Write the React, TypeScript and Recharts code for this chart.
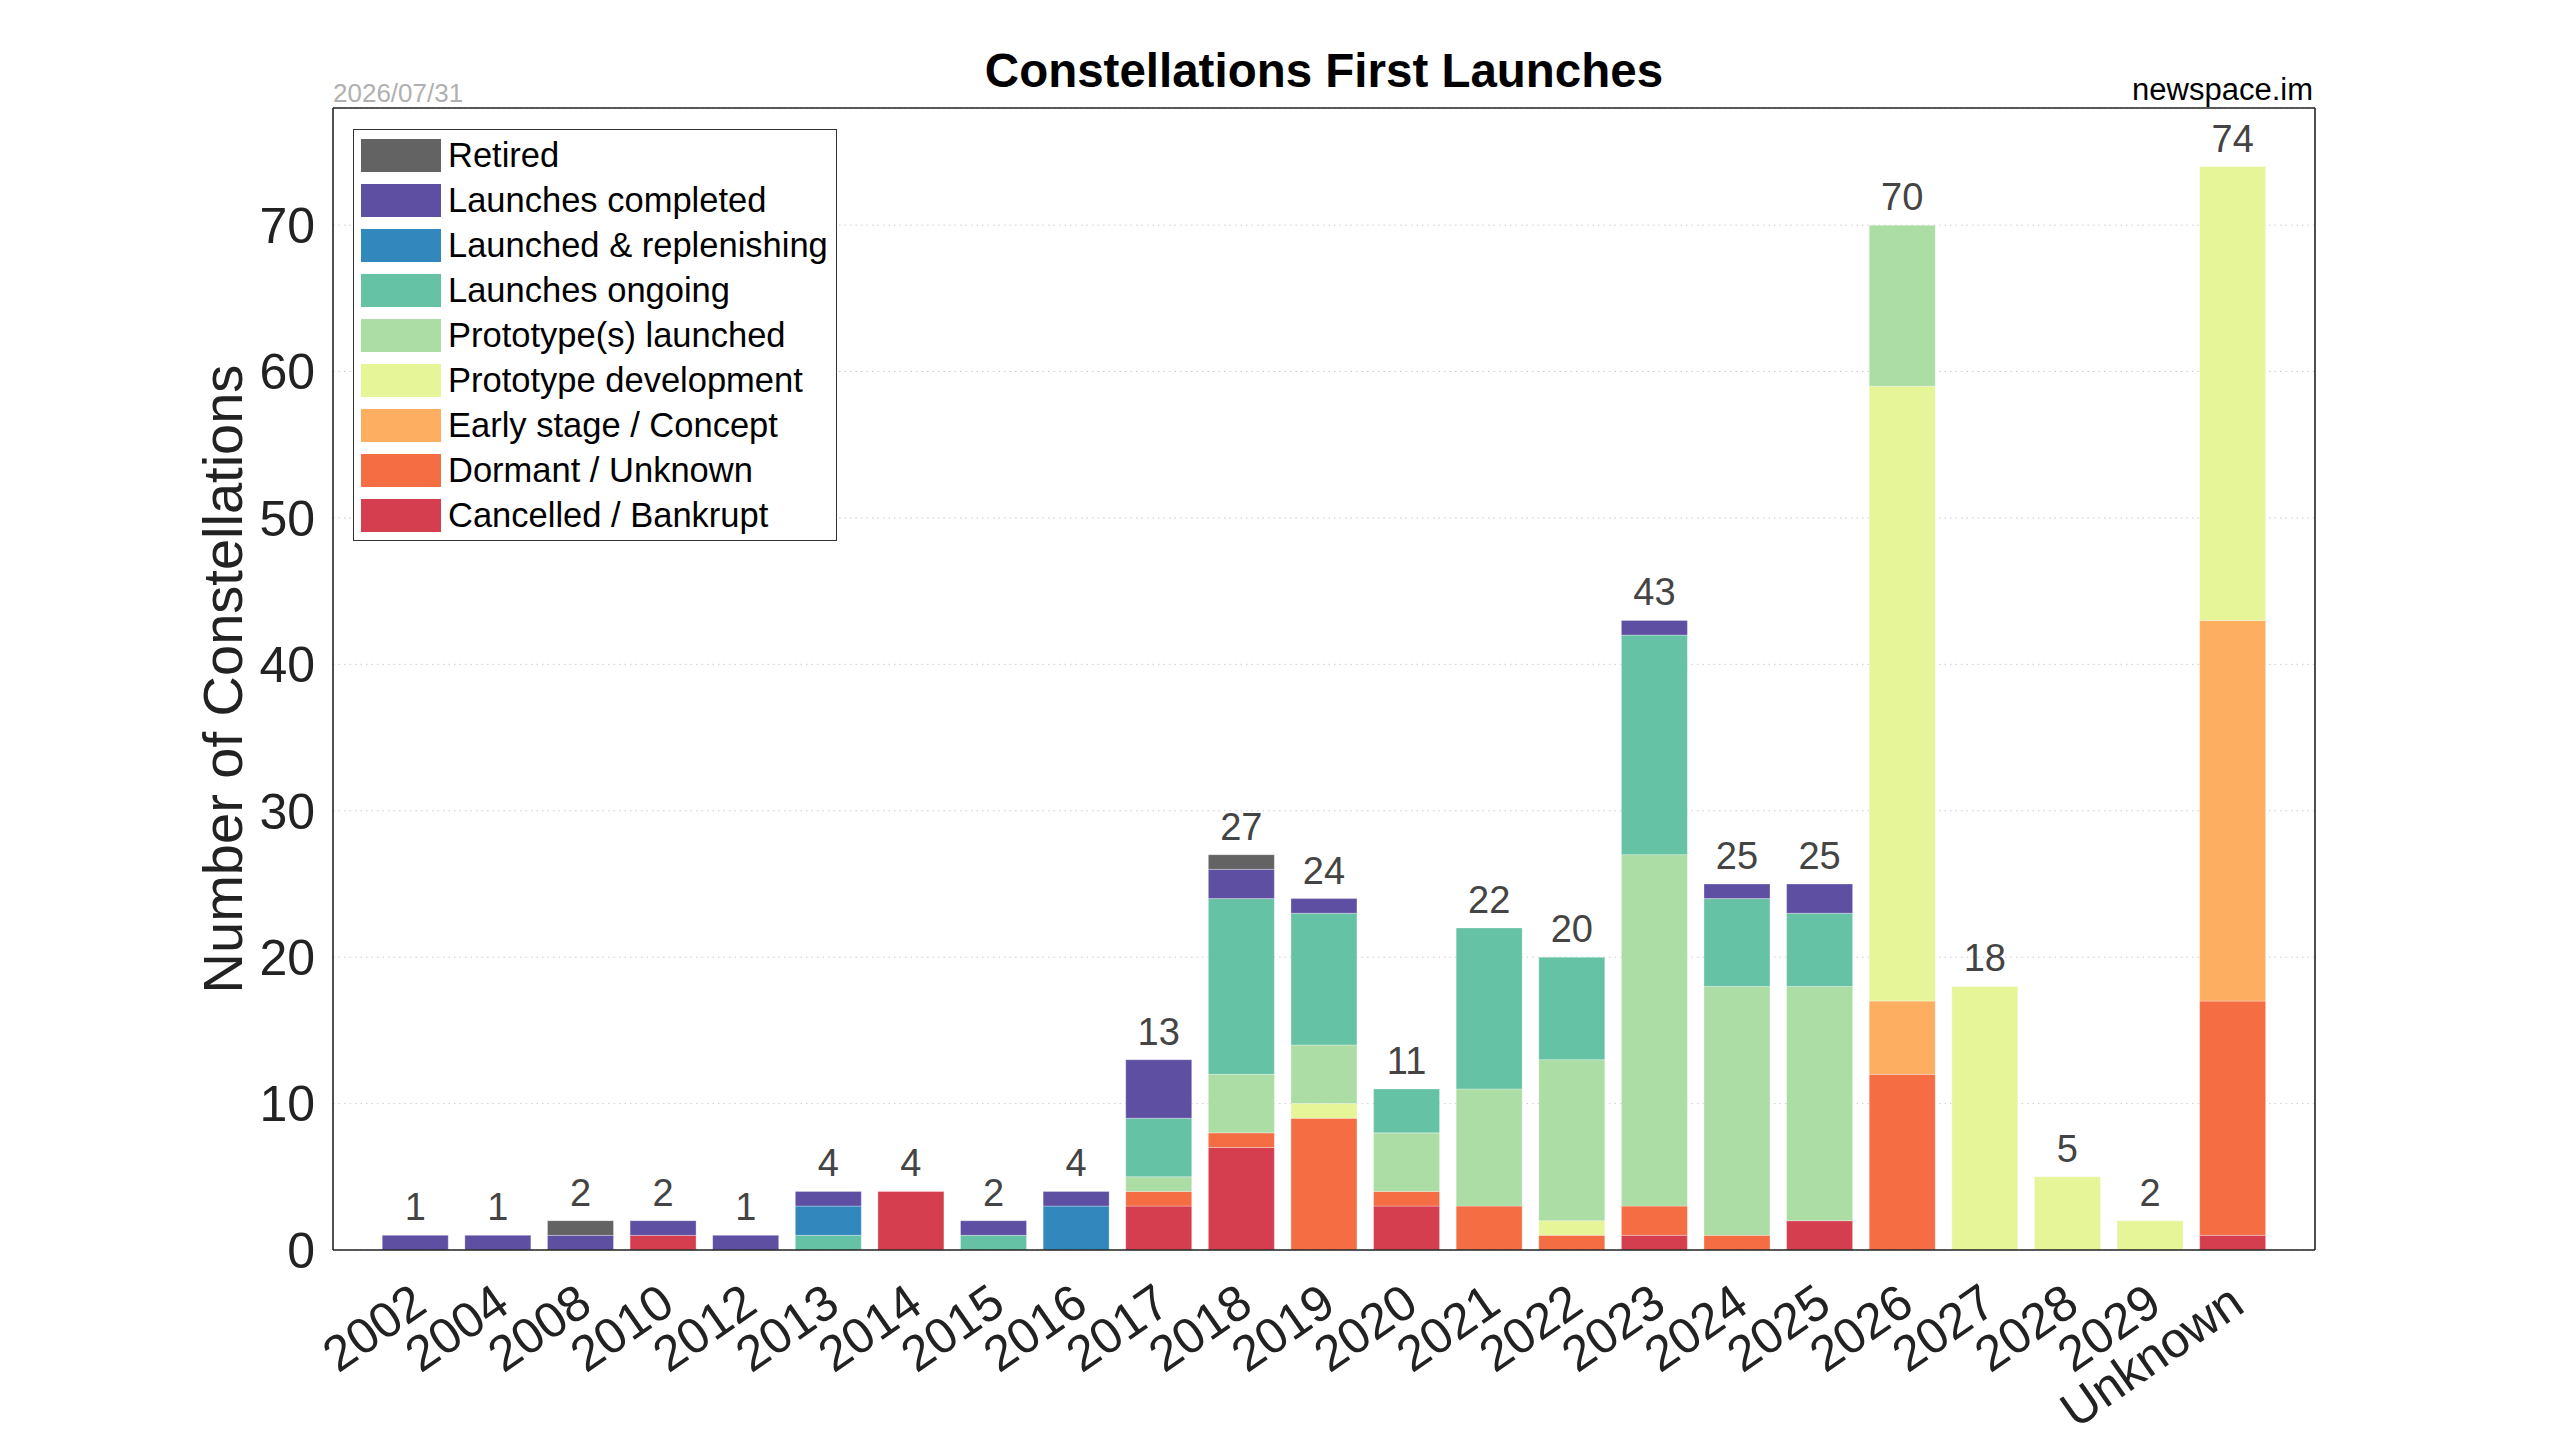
import React from "react";
import {
  BarChart,
  Bar,
  XAxis,
  YAxis,
  CartesianGrid,
  Legend,
  LabelList,
} from "recharts";

const FONT = '"Liberation Sans", Arial, Helvetica, sans-serif';

const years = [
  "2002", "2004", "2008", "2010", "2012", "2013", "2014", "2015", "2016", "2017", "2018", "2019",
  "2020", "2021", "2022", "2023", "2024", "2025", "2026", "2027", "2028", "2029", "Unknown",
];

// stack order, bottom to top
const cancelled = [0, 0, 0, 1, 0, 0, 4, 0, 0, 3, 7, 0, 3, 0, 0, 1, 0, 2, 0, 0, 0, 0, 1];
const dormant = [0, 0, 0, 0, 0, 0, 0, 0, 0, 1, 1, 9, 1, 3, 1, 2, 1, 0, 12, 0, 0, 0, 16];
const earlyStage = [0, 0, 0, 0, 0, 0, 0, 0, 0, 0, 0, 0, 0, 0, 0, 0, 0, 0, 5, 0, 0, 0, 26];
const protoDev = [0, 0, 0, 0, 0, 0, 0, 0, 0, 0, 0, 1, 0, 0, 1, 0, 0, 0, 42, 18, 5, 2, 31];
const protoLaunched = [0, 0, 0, 0, 0, 0, 0, 0, 0, 1, 4, 4, 4, 8, 11, 24, 17, 16, 11, 0, 0, 0, 0];
const ongoing = [0, 0, 0, 0, 0, 1, 0, 1, 0, 4, 12, 9, 3, 11, 7, 15, 6, 5, 0, 0, 0, 0, 0];
const replenishing = [0, 0, 0, 0, 0, 2, 0, 0, 3, 0, 0, 0, 0, 0, 0, 0, 0, 0, 0, 0, 0, 0, 0];
const completed = [1, 1, 1, 1, 1, 1, 0, 1, 1, 4, 2, 1, 0, 0, 0, 1, 1, 2, 0, 0, 0, 0, 0];
const retired = [0, 0, 1, 0, 0, 0, 0, 0, 0, 0, 1, 0, 0, 0, 0, 0, 0, 0, 0, 0, 0, 0, 0];

const yTicks = [0, 10, 20, 30, 40, 50, 60, 70];

const SERIES = [
  { key: "cancelled", name: "Cancelled / Bankrupt", color: "#d53e4f", values: cancelled },
  { key: "dormant", name: "Dormant / Unknown", color: "#f46d43", values: dormant },
  { key: "early", name: "Early stage / Concept", color: "#fdae61", values: earlyStage },
  { key: "protoDev", name: "Prototype development", color: "#e6f598", values: protoDev },
  { key: "protoLaunched", name: "Prototype(s) launched", color: "#abdda4", values: protoLaunched },
  { key: "ongoing", name: "Launches ongoing", color: "#66c2a5", values: ongoing },
  { key: "replenishing", name: "Launched & replenishing", color: "#3288bd", values: replenishing },
  { key: "completed", name: "Launches completed", color: "#5e4fa2", values: completed },
  { key: "retired", name: "Retired", color: "#636363", values: retired },
];

const data = years.map((year, i) => {
  const row: Record<string, string | number> = { year };
  let top = "";
  SERIES.forEach((s) => {
    row[s.key] = s.values[i];
    if (s.values[i] > 0) top = s.key;
  });
  row.total = SERIES.reduce((sum, s) => sum + s.values[i], 0);
  row.top = top;
  return row;
});

const AXIS_LINE = { stroke: "#222", strokeWidth: 1.6 };

const YearTick = (props: any) => {
  const { x, y, payload } = props;
  const ax = x + 14;
  const ay = y + 60;
  return (
    <text
      x={ax}
      y={ay}
      textAnchor="end"
      transform={`rotate(-35, ${ax}, ${ay})`}
      fontSize={50}
      fontFamily={FONT}
      fill="#222"
    >
      {payload.value}
    </text>
  );
};

const YTitle = (props: any) => {
  const { viewBox } = props;
  const x = viewBox.x + viewBox.width - 91;
  const y = viewBox.y + viewBox.height / 2;
  return (
    <text
      x={x}
      y={y}
      textAnchor="middle"
      transform={`rotate(-90, ${x}, ${y})`}
      fontSize={56}
      fontFamily={FONT}
      fill="#222"
    >
      Number of Constellations
    </text>
  );
};

const TotalLabel = (props: any) => {
  const { x, y, width, value } = props;
  if (value === null || value === undefined || value === "") return null;
  return (
    <text
      x={x + width / 2}
      y={y - 15}
      textAnchor="middle"
      fontSize={38}
      fontFamily={FONT}
      fill="#444"
    >
      {value}
    </text>
  );
};

const LegendBox = () => (
  <div
    style={{
      boxSizing: "border-box",
      width: 484,
      height: 412,
      border: "1.6px solid #333",
      background: "#fff",
      padding: "9px 0 0 7px",
      fontFamily: FONT,
      textAlign: "left",
    }}
  >
    {[...SERIES].reverse().map((s) => (
      <div
        key={s.key}
        style={{ display: "flex", alignItems: "center", height: 33, marginBottom: 12 }}
      >
        <span
          style={{ width: 80, height: 33, background: s.color, marginRight: 7, flex: "none" }}
        />
        <span style={{ fontSize: 34.5, lineHeight: "33px", color: "#000", whiteSpace: "nowrap" }}>
          {s.name}
        </span>
      </div>
    ))}
  </div>
);

export default function App() {
  return (
    <div
      style={{
        position: "absolute",
        left: 0,
        top: 0,
        width: 2560,
        height: 1440,
        background: "#fff",
        fontFamily: FONT,
      }}
    >
      <BarChart
        width={2560}
        height={1440}
        data={data}
        margin={{ top: 107, right: 244, bottom: 40, left: 213 }}
        barCategoryGap="10%"
      >
        <CartesianGrid vertical={false} stroke="#cccccc" strokeDasharray="1.5 4" />
        <XAxis
          dataKey="year"
          height={150}
          interval={0}
          padding={{ left: 41, right: 41 }}
          tickLine={false}
          tickSize={0}
          tickMargin={0}
          axisLine={AXIS_LINE}
          tick={<YearTick />}
        />
        <XAxis
          xAxisId="top"
          dataKey="year"
          orientation="top"
          height={1}
          tick={false}
          tickLine={false}
          axisLine={AXIS_LINE}
        />
        <YAxis
          domain={[0, 78]}
          ticks={yTicks}
          width={120}
          tickLine={false}
          tickSize={0}
          tickMargin={18}
          axisLine={AXIS_LINE}
          tick={{ fontSize: 50, fill: "#222", fontFamily: FONT }}
          label={<YTitle />}
        />
        <YAxis
          yAxisId="right"
          orientation="right"
          domain={[0, 78]}
          width={1}
          tick={false}
          tickLine={false}
          axisLine={AXIS_LINE}
        />
        <Legend
          layout="horizontal"
          verticalAlign="middle"
          align="center"
          content={() => <LegendBox />}
          wrapperStyle={{ left: 353, top: 129, width: 484, height: 412 }}
        />
        {SERIES.map((s) => (
          <Bar
            key={s.key}
            dataKey={s.key}
            name={s.name}
            stackId="a"
            fill={s.color}
            stroke="#ffffff"
            strokeOpacity={0.3}
            strokeWidth={1}
            isAnimationActive={false}
          >
            <LabelList
              dataKey={(entry: any) => (entry.top === s.key ? entry.total : null)}
              content={TotalLabel}
            />
          </Bar>
        ))}
      </BarChart>
      <svg
        width={2560}
        height={1440}
        style={{ position: "absolute", left: 0, top: 0, pointerEvents: "none" }}
      >
        <text
          x={1324}
          y={87}
          textAnchor="middle"
          fontSize={47.5}
          fontWeight="bold"
          fontFamily={FONT}
          fill="#000"
        >
          Constellations First Launches
        </text>
        <text x={333} y={102} fontSize={26} fontFamily={FONT} fill="#b0b0b0">
          2026/07/31
        </text>
        <text x={2313} y={100} textAnchor="end" fontSize={31} fontFamily={FONT} fill="#000">
          newspace.im
        </text>
      </svg>
    </div>
  );
}
